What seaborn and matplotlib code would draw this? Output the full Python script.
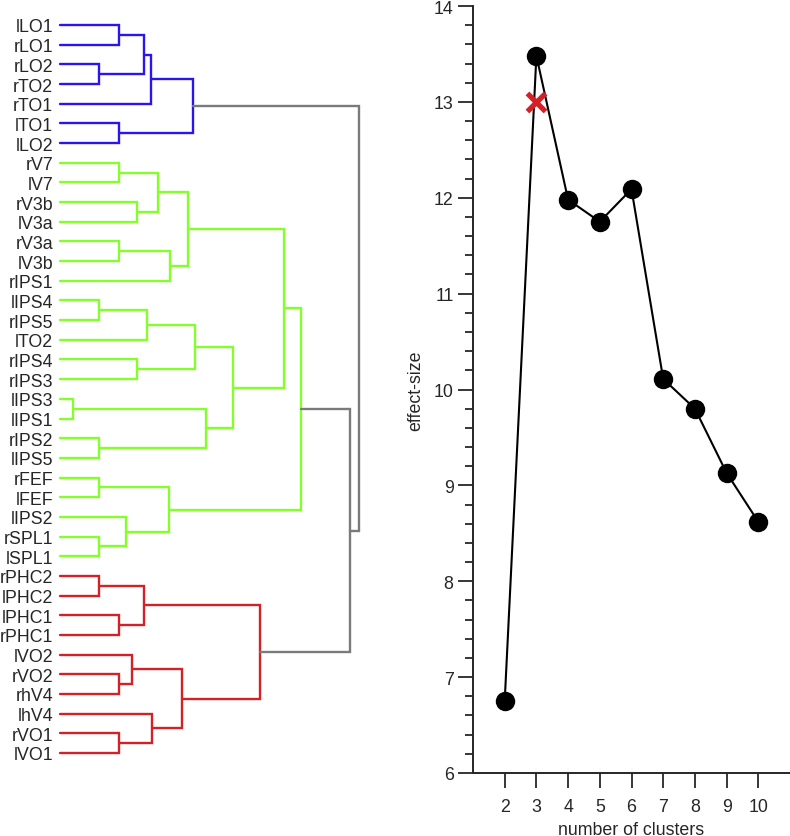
import numpy as np
import pandas as pd
import seaborn as sns
import matplotlib.pyplot as plt

# dendrogram: nested (left, right, height); leaves are region names
blue_tree = (((("lLO1", "rLO1", 0.197), ("rLO2", "rTO2", 0.130), 0.281), "rTO1", 0.304),
             ("lTO1", "lLO2", 0.197), 0.445)
green_tree = ((((("rV7", "lV7", 0.197), ("rV3b", "lV3a", 0.258), 0.328),
                (("rV3a", "lV3b", 0.197), "rIPS1", 0.368), 0.428),
               (((("lIPS4", "rIPS5", 0.130), "lTO2", 0.291), ("rIPS4", "rIPS3", 0.258), 0.452),
                (("lIPS3", "lIPS1", 0.043), ("rIPS2", "lIPS5", 0.130), 0.488), 0.579), 0.749),
              (("rFEF", "lFEF", 0.130), ("lIPS2", ("rSPL1", "lSPL1", 0.130), 0.221), 0.365), 0.806)
red_tree = (((("rPHC2", "lPHC2", 0.130), ("lPHC1", "rPHC1", 0.197), 0.281),
             (("lVO2", ("rVO2", "rhV4", 0.197), 0.241), ("lhV4", ("rVO1", "lVO1", 0.197), 0.308), 0.408), 0.669))
full_tree = (blue_tree, (green_tree, red_tree, 0.970), 1.0)

cluster_colors = {"blue": "#2a14f0", "green": "#84ff2c", "red": "#d42027", "link": "#7a7a7a"}

# effect size vs number of clusters
n_clusters = [2, 3, 4, 5, 6, 7, 8, 9, 10]
effect_size = [6.75, 13.48, 11.98, 11.75, 12.09, 10.11, 9.80, 9.13, 8.62]
chosen_k = [3]
chosen_effect = [13.0]

sns.set_style("ticks")
plt.rcParams['font.family'] = ['Liberation Sans', 'DejaVu Sans']
FS = 12.8

fig = plt.figure(figsize=(7.9, 8.37), dpi=100)
W, H = 790, 837


def px_axes(left, top, right, bottom):
    return fig.add_axes([left / W, 1 - bottom / H, (right - left) / W, (bottom - top) / H])


# ---- dendrogram ----
ax = px_axes(60, 26, 359, 754)
leaves = []


def color_of(node, parent_color):
    if node is blue_tree:
        return cluster_colors["blue"]
    if node is green_tree:
        return cluster_colors["green"]
    if node is red_tree:
        return cluster_colors["red"]
    return parent_color


def draw(node, color):
    # returns (y, height) of node
    if isinstance(node, str):
        leaves.append(node)
        return len(leaves) - 1, 0.0
    left, right, h = node
    ly, lh = draw(left, color_of(left, color))
    ry, rh = draw(right, color_of(right, color))
    ax.plot([lh, h, h, rh], [ly, ly, ry, ry], color=color, lw=1.7, clip_on=False,
            solid_joinstyle="miter")
    return (ly + ry) / 2, h


draw(full_tree, cluster_colors["link"])
ax.set_xlim(0, 1)
ax.set_ylim(len(leaves) - 1, 0)
ax.set_yticks(range(len(leaves)))
ax.set_yticklabels(leaves, fontsize=FS)
ax.tick_params(axis="y", length=0, pad=5)
ax.set_xticks([])
sns.despine(ax=ax, left=True, bottom=True)

# ---- effect size ----
ax2 = px_axes(473, 7, 790, 774)
df = pd.DataFrame({"k": n_clusters, "effect": effect_size})
sns.lineplot(data=df, x="k", y="effect", ax=ax2, color="black", lw=1.5,
             marker="o", markersize=14, markeredgewidth=0, clip_on=False)
sns.scatterplot(x=chosen_k, y=chosen_effect, ax=ax2, marker="x", s=170,
                color=cluster_colors["red"], linewidth=3.8, zorder=5)
ax2.set_xlim(1, 11)
ax2.set_ylim(6, 14)
ax2.set_xticks(n_clusters)
ax2.set_yticks(range(6, 15))
ax2.set_yticks(np.arange(6, 14.01, 0.2), minor=True)
ax2.tick_params(axis="y", which="major", length=11, width=1.3, labelsize=FS, pad=3)
ax2.tick_params(axis="x", which="major", length=11, width=1.3, labelsize=FS, pad=7)
ax2.tick_params(axis="y", which="minor", length=5.5, width=1.3)
ax2.set_xlabel("number of clusters", fontsize=FS, labelpad=4)
ax2.set_ylabel("effect-size", fontsize=FS, labelpad=7)
for s in ["left", "bottom"]:
    ax2.spines[s].set_linewidth(1.4)
sns.despine(ax=ax2)

fig.savefig("out.png", dpi=100)
